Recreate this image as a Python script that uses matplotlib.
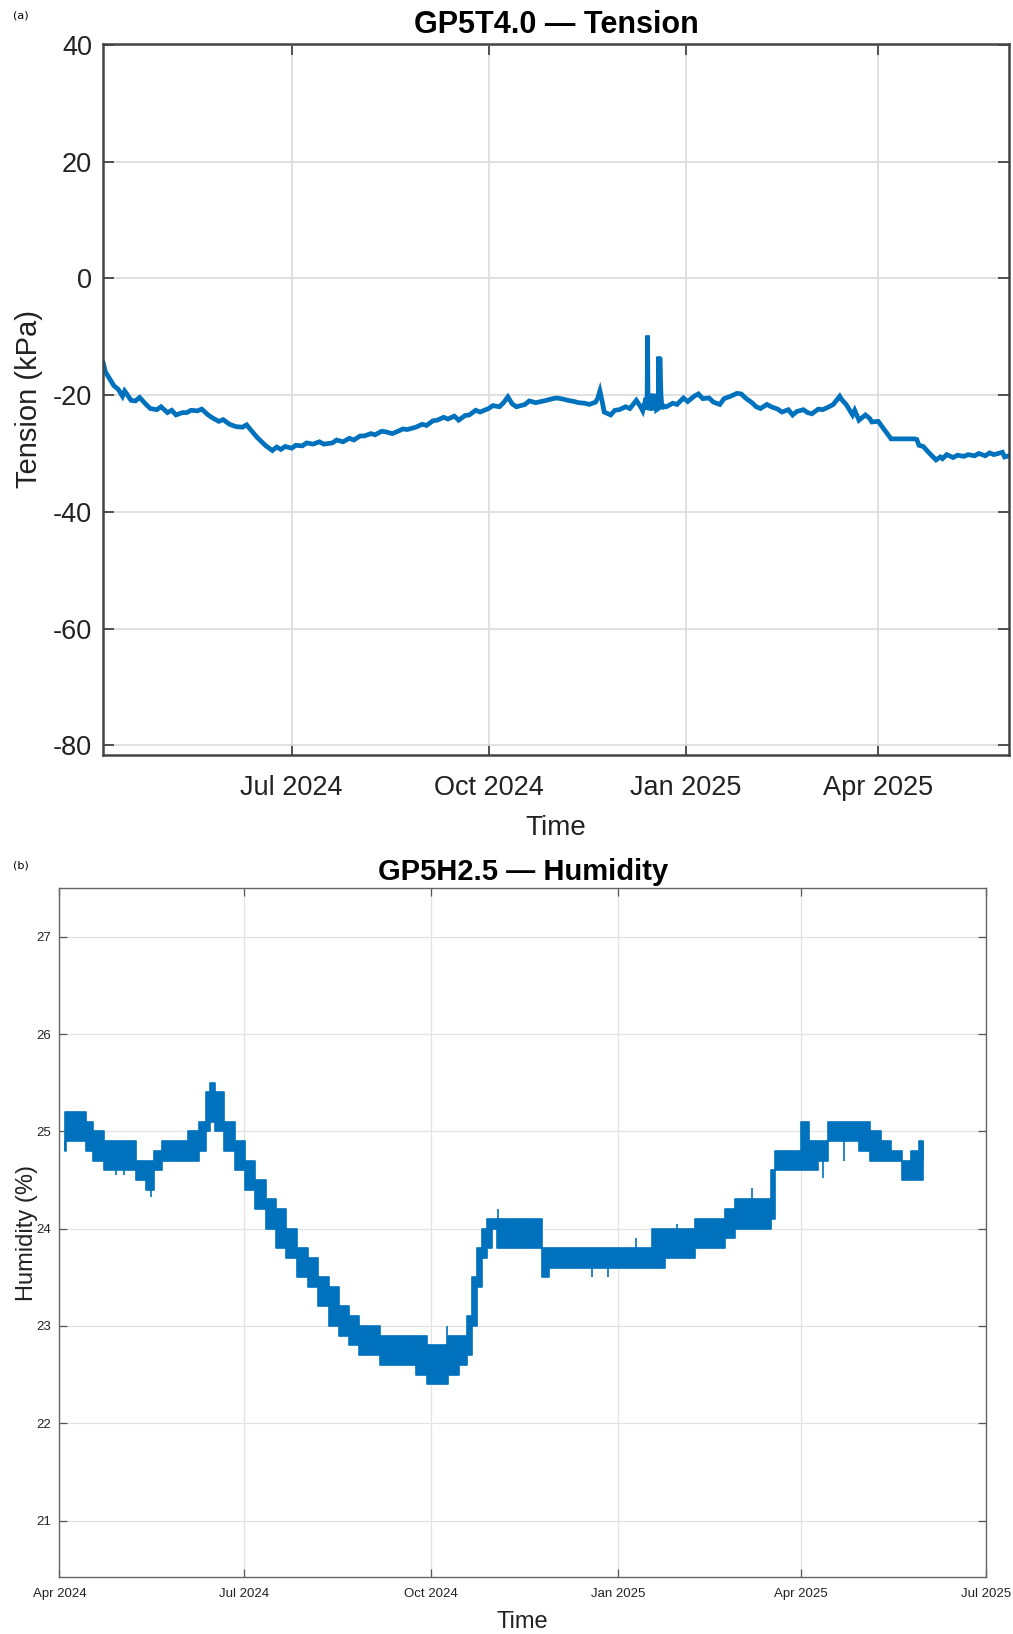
import matplotlib
matplotlib.use("Agg")
import matplotlib.pyplot as plt
import matplotlib.dates as mdates
import pandas as pd

# ---------------- data: panel (a) tension ----------------
tension_dates = [
    "2024-04-04", "2024-04-05", "2024-04-07", "2024-04-09", "2024-04-11", "2024-04-13", "2024-04-14",
    "2024-04-15", "2024-04-17", "2024-04-19", "2024-04-21", "2024-04-24", "2024-04-26", "2024-04-29",
    "2024-05-01", "2024-05-04", "2024-05-06", "2024-05-08", "2024-05-11", "2024-05-13", "2024-05-15",
    "2024-05-18", "2024-05-20", "2024-05-23", "2024-05-25", "2024-05-28", "2024-05-30", "2024-06-02",
    "2024-06-05", "2024-06-08", "2024-06-10", "2024-06-12", "2024-06-15", "2024-06-17", "2024-06-19",
    "2024-06-22", "2024-06-24", "2024-06-26", "2024-06-28", "2024-07-01", "2024-07-03", "2024-07-06",
    "2024-07-08", "2024-07-11", "2024-07-14", "2024-07-16", "2024-07-20", "2024-07-22", "2024-07-25",
    "2024-07-28", "2024-07-30", "2024-08-02", "2024-08-04", "2024-08-07", "2024-08-09", "2024-08-12",
    "2024-08-14", "2024-08-17", "2024-08-19", "2024-08-22", "2024-08-24", "2024-08-28", "2024-08-31",
    "2024-09-02", "2024-09-05", "2024-09-07", "2024-09-10", "2024-09-12", "2024-09-15", "2024-09-17",
    "2024-09-20", "2024-09-22", "2024-09-25", "2024-09-27", "2024-10-01", "2024-10-03", "2024-10-06",
    "2024-10-08", "2024-10-10", "2024-10-12", "2024-10-14", "2024-10-18", "2024-10-20", "2024-10-23",
    "2024-10-28", "2024-10-31", "2024-11-02", "2024-11-05", "2024-11-07", "2024-11-10", "2024-11-12",
    "2024-11-15", "2024-11-17", "2024-11-20", "2024-11-21", "2024-11-22", "2024-11-23", "2024-11-24",
    "2024-11-27", "2024-11-29", "2024-12-01", "2024-12-04", "2024-12-06", "2024-12-09", "2024-12-11",
    "2024-12-12", "2024-12-13 12:00", "2024-12-14 00:00", "2024-12-14 06:00", "2024-12-14 12:00",
    "2024-12-15 00:00", "2024-12-15 06:00", "2024-12-15 12:00", "2024-12-16 00:00", "2024-12-16 06:00",
    "2024-12-16 12:00", "2024-12-17 00:00", "2024-12-17 06:00", "2024-12-17 12:00", "2024-12-18 00:00",
    "2024-12-18 06:00", "2024-12-18 12:00", "2024-12-19 06:00", "2024-12-19 12:00", "2024-12-19 18:00",
    "2024-12-20 00:00", "2024-12-20 12:00", "2024-12-21 00:00", "2024-12-21 12:00",
    "2024-12-23", "2024-12-26", "2024-12-28", "2024-12-31", "2025-01-02", "2025-01-05", "2025-01-07",
    "2025-01-09", "2025-01-12", "2025-01-14", "2025-01-17", "2025-01-19", "2025-01-22", "2025-01-25",
    "2025-01-27", "2025-01-29", "2025-02-01", "2025-02-03", "2025-02-05", "2025-02-08", "2025-02-10",
    "2025-02-13", "2025-02-15", "2025-02-18", "2025-02-20", "2025-02-22", "2025-02-25", "2025-02-27",
    "2025-03-01", "2025-03-04", "2025-03-06", "2025-03-09", "2025-03-11", "2025-03-14", "2025-03-15",
    "2025-03-17", "2025-03-20", "2025-03-21", "2025-03-23", "2025-03-26", "2025-03-28", "2025-03-29",
    "2025-04-01", "2025-04-03", "2025-04-05", "2025-04-06", "2025-04-07", "2025-04-18", "2025-04-19",
    "2025-04-20", "2025-04-22", "2025-04-25", "2025-04-28", "2025-04-30", "2025-05-01", "2025-05-03",
    "2025-05-06", "2025-05-08", "2025-05-11", "2025-05-13", "2025-05-16", "2025-05-18", "2025-05-21",
    "2025-05-23", "2025-05-25", "2025-05-29", "2025-05-30", "2025-06-01",
]
tension_kpa = [
    -14.5, -16.0, -17.2, -18.4, -19.0, -20.2, -19.3,
    -19.8, -20.9, -21.0, -20.4, -21.6, -22.3, -22.5,
    -22.0, -23.0, -22.6, -23.4, -23.0, -23.0, -22.6,
    -22.7, -22.4, -23.4, -23.9, -24.5, -24.2, -25.0,
    -25.4, -25.5, -25.1, -26.0, -27.3, -28.0, -28.7,
    -29.5, -28.9, -29.3, -28.8, -29.1, -28.6, -28.7,
    -28.2, -28.4, -28.0, -28.4, -28.2, -27.7, -28.0,
    -27.4, -27.7, -27.0, -27.0, -26.6, -26.8, -26.2,
    -26.3, -26.6, -26.3, -25.8, -25.9, -25.5, -25.0,
    -25.2, -24.4, -24.3, -23.8, -24.1, -23.6, -24.3,
    -23.5, -23.4, -22.6, -22.9, -22.3, -21.8, -22.0,
    -21.3, -20.3, -21.5, -22.0, -21.6, -21.0, -21.3,
    -20.9, -20.6, -20.5, -20.7, -20.9, -21.1, -21.3,
    -21.4, -21.6, -21.2, -20.5, -19.3, -21.0, -22.9,
    -23.4, -22.6, -22.5, -22.0, -22.3, -20.9, -22.0,
    -22.7, -20.5, -22.5, -9.8, -22.5,
    -19.8, -22.6, -19.8, -22.4, -19.8,
    -22.6, -19.8, -22.5, -19.8, -22.4,
    -19.8, -22.5, -22.3, -13.4, -22.0,
    -13.6, -19.8, -22.4, -21.8,
    -22.0, -21.4, -21.6, -20.5, -21.1, -20.2, -19.8,
    -20.6, -20.5, -21.2, -21.6, -20.6, -20.2, -19.7,
    -19.8, -20.5, -21.3, -22.0, -22.3, -21.6, -22.0,
    -22.4, -22.9, -22.5, -23.4, -22.8, -22.5, -23.0,
    -23.2, -22.4, -22.5, -22.0, -21.6, -20.2, -20.8,
    -21.6, -23.4, -22.6, -24.3, -23.4, -24.0, -24.6,
    -24.5, -25.5, -26.5, -27.0, -27.5, -27.5, -27.6,
    -28.6, -28.8, -30.0, -31.1, -30.6, -30.9, -30.2,
    -30.7, -30.3, -30.5, -30.2, -30.4, -30.0, -30.4,
    -29.9, -30.2, -29.8, -30.6, -30.4,
]
tension_yticks = [-80, -60, -40, -20, 0, 20, 40]

# ---------------- data: panel (b) humidity band (0.1 % steps) ----------------
humidity_dates = [
    "2024-04-04", "2024-04-05", "2024-04-09", "2024-04-13", "2024-04-15", "2024-04-20", "2024-04-26",
    "2024-05-01", "2024-05-06", "2024-05-11", "2024-05-16", "2024-05-19", "2024-05-24", "2024-06-01",
    "2024-06-06", "2024-06-11", "2024-06-13", "2024-06-15", "2024-06-18", "2024-06-24", "2024-06-29",
    "2024-07-04", "2024-07-09", "2024-07-14", "2024-07-19", "2024-07-24", "2024-07-30", "2024-08-04",
    "2024-08-09", "2024-08-14", "2024-08-19", "2024-08-24", "2024-08-29", "2024-09-03", "2024-09-09",
    "2024-09-14", "2024-09-21", "2024-09-26", "2024-10-02", "2024-10-07", "2024-10-12", "2024-10-17",
    "2024-10-20", "2024-10-22", "2024-10-25", "2024-10-27", "2024-10-30", "2024-11-01", "2024-11-04",
    "2024-11-09", "2024-11-14", "2024-11-19", "2024-11-23", "2024-11-26", "2024-11-30", "2024-12-07",
    "2024-12-15", "2024-12-23", "2024-12-30", "2025-01-07", "2025-01-15", "2025-01-20", "2025-01-28",
    "2025-02-04", "2025-02-12", "2025-02-20", "2025-02-25", "2025-03-02", "2025-03-07", "2025-03-12",
    "2025-03-16", "2025-03-18", "2025-03-20", "2025-03-25", "2025-03-30", "2025-04-03", "2025-04-07",
    "2025-04-12", "2025-04-17", "2025-04-22", "2025-04-27", "2025-05-02", "2025-05-08", "2025-05-13",
    "2025-05-18", "2025-05-23", "2025-05-27", "2025-05-31",
]
humidity_low = [
    24.8, 24.9, 24.9, 24.9, 24.8, 24.7, 24.6,
    24.6, 24.6, 24.5, 24.4, 24.6, 24.7, 24.7,
    24.7, 24.8, 25.0, 25.1, 25.0, 24.8, 24.6,
    24.4, 24.2, 24.0, 23.8, 23.7, 23.5, 23.4,
    23.2, 23.0, 22.9, 22.8, 22.7, 22.7, 22.6,
    22.6, 22.6, 22.5, 22.4, 22.4, 22.5, 22.6,
    22.7, 23.0, 23.4, 23.7, 23.8, 24.0, 23.8,
    23.8, 23.8, 23.8, 23.8, 23.5, 23.6, 23.6,
    23.6, 23.6, 23.6, 23.6, 23.6, 23.6, 23.7,
    23.7, 23.8, 23.8, 23.9, 24.0, 24.0, 24.0,
    24.0, 24.1, 24.6, 24.6, 24.6, 24.6, 24.6,
    24.7, 24.9, 24.9, 24.9, 24.8, 24.7, 24.7,
    24.7, 24.5, 24.5, 24.5,
]
humidity_high = [
    25.2, 25.2, 25.2, 25.2, 25.1, 25.0, 24.9,
    24.9, 24.9, 24.7, 24.7, 24.8, 24.9, 24.9,
    25.0, 25.1, 25.4, 25.5, 25.4, 25.1, 24.9,
    24.7, 24.5, 24.3, 24.2, 24.0, 23.8, 23.7,
    23.5, 23.4, 23.2, 23.1, 23.0, 23.0, 22.9,
    22.9, 22.9, 22.9, 22.8, 22.8, 22.9, 22.9,
    23.1, 23.5, 23.8, 24.0, 24.1, 24.1, 24.1,
    24.1, 24.1, 24.1, 24.1, 23.8, 23.8, 23.8,
    23.8, 23.8, 23.8, 23.8, 23.8, 24.0, 24.0,
    24.0, 24.1, 24.1, 24.2, 24.3, 24.3, 24.3,
    24.3, 24.6, 24.8, 24.8, 24.8, 25.1, 24.9,
    24.9, 25.1, 25.1, 25.1, 25.1, 25.0, 24.9,
    24.8, 24.7, 24.8, 24.9,
]
# isolated excursions (date, from, to)
spike_dates = ["2024-04-04", "2024-05-16", "2024-11-03", "2024-12-19", "2024-12-27",
               "2025-03-08", "2025-04-12", "2025-05-31", "2024-06-20", "2024-04-29",
               "2024-05-03", "2024-10-09", "2025-01-10", "2025-01-30", "2025-04-22"]
spike_from = [24.90, 24.50, 24.05, 23.65, 23.65, 24.30, 24.70, 24.70, 25.30, 24.70,
              24.70, 22.80, 23.70, 23.80, 24.90]
spike_to = [24.80, 24.32, 24.20, 23.50, 23.50, 24.42, 24.52, 24.90, 25.40, 24.55,
            24.55, 23.00, 23.90, 24.05, 24.70]
humidity_yticks = [21, 22, 23, 24, 25, 26, 27]

BLUE = "#0072BD"

t_x = pd.to_datetime(tension_dates, format="ISO8601")
h_x = pd.to_datetime(humidity_dates, format="ISO8601")
s_x = pd.to_datetime(spike_dates, format="ISO8601")

plt.rcParams["font.family"] = ["Liberation Sans", "DejaVu Sans"]
plt.rcParams["axes.unicode_minus"] = False

fig = plt.figure(figsize=(10.13, 16.34), dpi=100)

# ---------------- panel (a) ----------------
ax1 = fig.add_axes([0.1019, 0.5382, 0.894, 0.435])
ax1.plot(t_x, tension_kpa, color=BLUE, lw=3.4, solid_joinstyle="miter")
ax1.set_xlim(t_x.min(), t_x.max())
ax1.set_ylim(-81.6, 40.2)
ax1.set_yticks(tension_yticks)
ax1.xaxis.set_major_locator(mdates.MonthLocator(bymonth=[1, 4, 7, 10]))
ax1.xaxis.set_major_formatter(mdates.DateFormatter("%b %Y"))
ax1.grid(True, color="#dedede", lw=1.3)
ax1.set_axisbelow(True)
for s in ax1.spines.values():
    s.set_color("#444444")
    s.set_linewidth(1.8)
ax1.tick_params(direction="in", length=8, width=1.3, top=True, right=True,
                labelsize=19.5, colors="#444444", labelcolor="#222222")
ax1.tick_params(axis="x", pad=15)
ax1.tick_params(axis="y", pad=8)
ax1.set_title("GP5T4.0 — Tension", fontsize=22, fontweight="bold", pad=8)
ax1.set_xlabel("Time", fontsize=20, labelpad=10, color="#222222")
ax1.set_ylabel("Tension (kPa)", fontsize=21, labelpad=7, color="#222222")
fig.text(0.013, 0.9905, "(a)", fontsize=8, family="DejaVu Sans", va="center")

# ---------------- panel (b) ----------------
ax2 = fig.add_axes([0.0586, 0.0349, 0.9147, 0.4216])
ax2.fill_between(h_x, humidity_low, humidity_high, step="mid", color=BLUE, lw=1.2, edgecolor=BLUE)
ax2.vlines(s_x, spike_from, spike_to, color=BLUE, lw=1.2)
ax2.set_xlim(pd.Timestamp("2024-04-01"), pd.Timestamp("2025-07-01"))
ax2.set_ylim(20.42, 27.5)
ax2.set_yticks(humidity_yticks)
ax2.xaxis.set_major_locator(mdates.MonthLocator(bymonth=[1, 4, 7, 10]))
ax2.xaxis.set_major_formatter(mdates.DateFormatter("%b %Y"))
ax2.grid(True, color="#e3e3e3", lw=0.9)
ax2.set_axisbelow(True)
for s in ax2.spines.values():
    s.set_color("#666666")
    s.set_linewidth(1.0)
ax2.tick_params(direction="in", length=6, width=0.9, top=True, right=True,
                labelsize=9.5, colors="#555555", labelcolor="#222222")
ax2.tick_params(axis="x", pad=8)
ax2.tick_params(axis="y", pad=6)
ax2.set_title("GP5H2.5 — Humidity", fontsize=21, fontweight="bold", pad=6)
ax2.set_xlabel("Time", fontsize=17, labelpad=8, color="#222222")
ax2.set_ylabel("Humidity (%)", fontsize=17, labelpad=-1, color="#222222")
fig.text(0.013, 0.4706, "(b)", fontsize=8, family="DejaVu Sans", va="center")

fig.savefig("out.png", dpi=100)
